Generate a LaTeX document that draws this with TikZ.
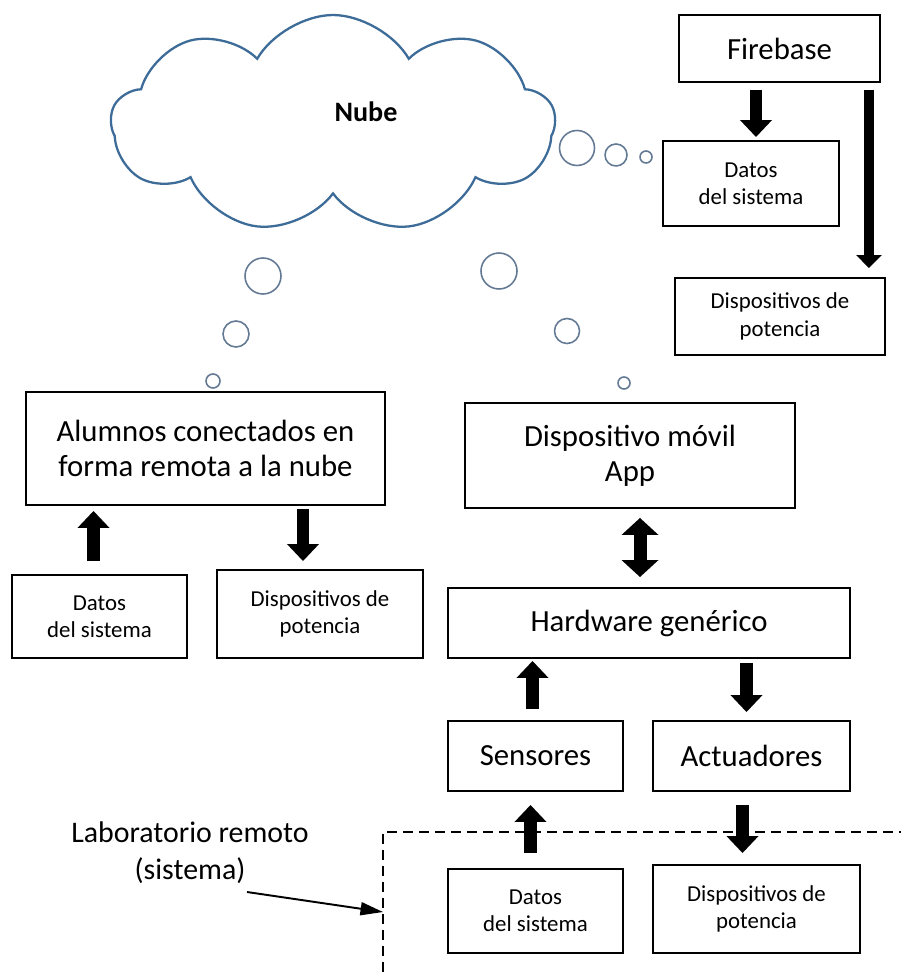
\documentclass[tikz,border=0pt]{standalone}
\usepackage{fontspec}
\setmainfont{Carlito}
\usetikzlibrary{shapes.symbols}
\usetikzlibrary{arrows.meta}
\usetikzlibrary{calc}

\definecolor{nubeazul}{RGB}{62,108,152}
\definecolor{burbuja}{RGB}{100,122,148}

\tikzset{
  caja/.style={draw, line width=1.1pt, align=center, inner sep=0pt,
    font=\fontsize{17.5}{20}\selectfont},
  cajita/.style={caja, font=\fontsize{13}{15.5}\selectfont},
  gruesa/.style={line width=0.25cm, -{Triangle[width=0.62cm,length=0.34cm]}},
  doble/.style={line width=0.26cm, {Triangle[width=0.72cm,length=0.34cm]}-{Triangle[width=0.72cm,length=0.34cm]}},
  burb/.style={draw=burbuja, line width=0.9pt}
}

\begin{document}
\begin{tikzpicture}[x=0.02cm,y=-0.02cm]
  \useasboundingbox (0,0) rectangle (901,972);

  \node[cloud, draw=nubeazul, fill=white, line width=1.3pt, cloud puffs=9,
    cloud puff arc=120, aspect=2.05, minimum width=8.88cm, minimum height=4.36cm,
    inner sep=0pt] (nube) at (333,124) {};
  \node[font=\bfseries\fontsize{16}{19}\selectfont] (nubetxt) at (366,112) {Nube};
  \foreach \bx/\by/\br in {577/148/17.5, 616/155/11, 646/157/6,
      263/276/18, 236/334/13, 213/381/7, 499/271/18, 567/331/12.5, 624/383/6}
    \draw[burb] (\bx,\by) circle[radius=\br*0.02cm];

  \node[caja, minimum width=4.02cm, minimum height=1.34cm] (firebase) at (779.5,48.5) {Firebase};
  \node[cajita, minimum width=3.52cm, minimum height=1.70cm] (datosfb) at (751,183.5) {Datos\\del sistema};
  \node[cajita, minimum width=4.20cm, minimum height=1.54cm] (dispfb) at (780,316.5) {Dispositivos de\\potencia};

  \node[caja, minimum width=7.18cm, minimum height=2.26cm] (alumnos) at (205.5,448.5) {Alumnos conectados en\\forma remota a la nube};
  \node[cajita, minimum width=3.50cm, minimum height=1.66cm] (datosal) at (99.5,616.5) {Datos\\del sistema};
  \node[cajita, minimum width=4.12cm, minimum height=1.76cm] (dispal) at (320,614) {Dispositivos de\\potencia};

  \node[caja, minimum width=6.60cm, minimum height=2.10cm] (movil) at (630,455.5) {Dispositivo m\'ovil\\App};
  \node[caja, minimum width=8.04cm, minimum height=1.40cm] (hardware) at (649,623) {Hardware gen\'erico};
  \node[caja, minimum width=3.50cm, minimum height=1.40cm] (sensores) at (535.5,756) {Sensores};
  \node[caja, minimum width=3.94cm, minimum height=1.40cm] (actuadores) at (751.5,756) {Actuadores};
  \node[cajita, minimum width=3.50cm, minimum height=1.68cm] (datoslab) at (535.5,911) {Datos\\del sistema};
  \node[cajita, minimum width=4.14cm, minimum height=1.76cm] (displab) at (756.5,909) {Dispositivos de\\potencia};

  \draw[gruesa] ($(firebase.south -| datosfb.north)+(5,7)$) -- ($(datosfb.north)+(5,-3)$);
  \draw[line width=0.2cm, -{Triangle[width=0.5cm,length=0.26cm]}]
    ($(firebase.south east)+(-12,7)$) -- ($(firebase.south east |- dispfb.north)+(-12,-9)$);
  \draw[gruesa] ($(datosal.north)+(-6,-13)$) -- ($(alumnos.south -| datosal.north)+(-6,5)$);
  \draw[gruesa] ($(alumnos.south -| dispal.north)+(-17,3)$) -- ($(dispal.north)+(-17,-8)$);
  \draw[doble] ($(movil.south)+(10,9)$) -- ($(hardware.north -| movil.south)+(10,-10)$);
  \draw[gruesa] ($(sensores.north)+(-3,-11)$) -- ($(hardware.south -| sensores.north)+(-3,2)$);
  \draw[gruesa] ($(hardware.south -| actuadores.north)+(-5,4)$) -- ($(actuadores.north)+(-5,-8)$);
  \draw[gruesa] ($(datoslab.north)+(-5,-15)$) -- ($(sensores.south)+(-5,13)$);
  \draw[gruesa] ($(actuadores.south)+(-9,13)$) -- ($(displab.north)+(-14,-11)$);

  \coordinate (labesq) at (383,832);
  \coordinate (labpie) at (383,972);
  \coordinate (labder) at (901,832);
  \draw[line width=1.1pt, dash pattern=on 0.2cm off 0.12cm] (labpie) -- (labesq) -- (labder);
  \node[font=\fontsize{17}{21}\selectfont, align=center] (lab) at (190,853) {Laboratorio remoto\\(sistema)};
  \draw[line width=1.1pt, -{Triangle[width=0.26cm,length=0.45cm]}]
    ($(lab.center)+(57,39)$) -- ($(labesq)+(0,80)$);
\end{tikzpicture}
\end{document}
